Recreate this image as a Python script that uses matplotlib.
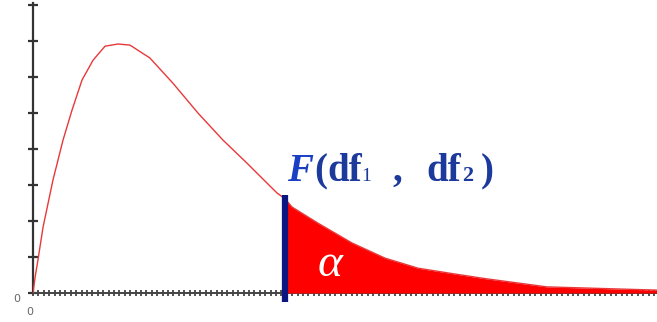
import numpy as np
import matplotlib.pyplot as plt

# F density curve (x = F value, y = density)
f_x = [0.0, 0.02, 0.046, 0.093, 0.185, 0.278, 0.361, 0.454, 0.556, 0.667,
       0.787, 0.898, 1.083, 1.296, 1.528, 1.759, 1.981, 2.259, 2.333, 2.398,
       2.639, 2.954, 3.259, 3.565, 3.880, 4.185, 4.759, 5.778]
f_y = [0.0, 0.045, 0.092, 0.183, 0.314, 0.425, 0.508, 0.592, 0.647, 0.686,
       0.692, 0.689, 0.653, 0.583, 0.500, 0.425, 0.361, 0.278, 0.262, 0.239,
       0.194, 0.139, 0.097, 0.069, 0.054, 0.040, 0.017, 0.008]
x_crit = 2.333
x_ticks = np.arange(0, 5.78, 0.05)
y_ticks = [0.0, 0.1, 0.2, 0.3, 0.4, 0.5, 0.6, 0.7, 0.8]

x = np.array(f_x)
y = np.array(f_y)

fig = plt.figure(figsize=(6.57, 3.22), dpi=100)
ax = fig.add_axes([33 / 657, 29 / 322, 624 / 657, 290 / 322])
ax.set_xlim(0, 5.778)
ax.set_ylim(0, 0.806)

ax.plot(x, y, color="#e8383a", lw=1.0, zorder=4)

tail = x >= x_crit
ax.fill_between(x[tail], y[tail], 0, color="#ff0000", lw=0, zorder=3)

y_crit = np.interp(x_crit, x, y)
ax.plot([x_crit, x_crit], [-0.025, y_crit + 0.01], color="#0b1780", lw=4.5,
        solid_capstyle="butt", zorder=5, clip_on=False)

for side in ["top", "right"]:
    ax.spines[side].set_visible(False)
ax.spines["left"].set_color("#333333")
ax.spines["left"].set_linewidth(1.6)
ax.spines["bottom"].set_color("#444444")
ax.spines["bottom"].set_linewidth(1.4)

ax.set_xticks(x_ticks)
ax.set_yticks(y_ticks)
ax.set_xticklabels([])
ax.set_yticklabels([])
ax.tick_params(axis="x", direction="inout", length=5, width=1.3, color="#444444")
ax.tick_params(axis="y", direction="inout", length=7, width=1.6, color="#333333")

ax.annotate("0", (0, 0), xytext=(-12, -4), textcoords="offset points",
            ha="center", va="center", fontsize=8, color="#666666",
            annotation_clip=False)
ax.annotate("0", (0, 0), xytext=(-2, -14), textcoords="offset points",
            ha="center", va="center", fontsize=8, color="#666666",
            annotation_clip=False)

ax.text(2.75, 0.078, "α", color="white", fontsize=34, style="italic",
        family="Liberation Serif", ha="center", va="center", zorder=6)

# label F(df1 , df2) built from pieces, pixel positions measured on the picture
blue = "#1c3a9c"
serif = "Liberation Serif"
W, H = 657, 322
base = 1 - 181 / H
pieces = [
    ("F", 287, 28, "bold", "italic", "#1a3ec4"),
    ("(", 314, 28, "bold", "normal", blue),
    ("df", 327, 28, "bold", "normal", blue),
    ("1", 361, 14, "normal", "normal", blue),
    (",", 392, 28, "bold", "normal", blue),
    ("df", 426, 28, "bold", "normal", blue),
    ("2", 462, 16, "bold", "normal", blue),
    (")", 481, 28, "bold", "normal", blue),
]
for txt, px, size, weight, style, col in pieces:
    fig.text(px / W, base, txt, fontsize=size, fontweight=weight, style=style,
             family=serif, color=col, ha="left", va="baseline")

fig.savefig("out.png", dpi=100)
